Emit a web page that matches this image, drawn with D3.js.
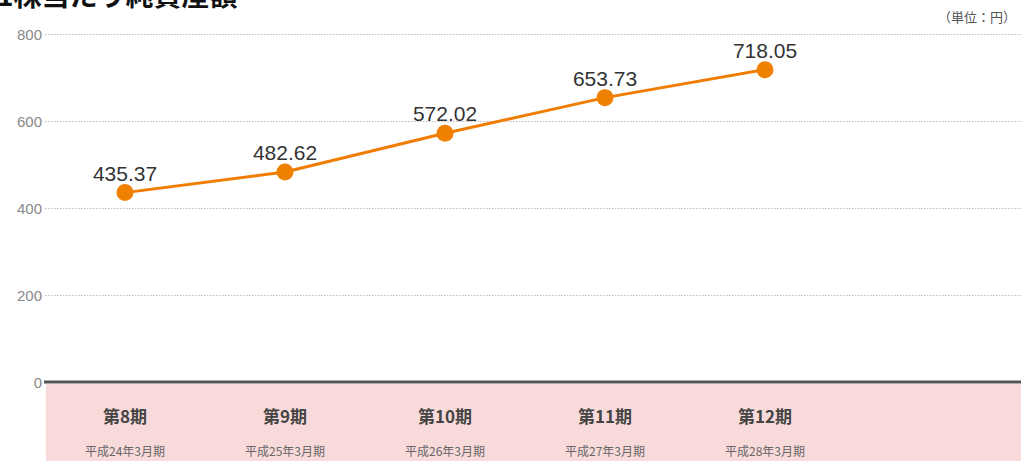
<!DOCTYPE html>
<html><head><meta charset="utf-8">
<script src="https://cdn.jsdelivr.net/npm/d3@7"></script>
<style>body{margin:0;background:#fff;}svg{display:block;}</style>
</head><body><svg id="c" width="1021" height="461"></svg>
<script>
const periods = ["第8期","第9期","第10期","第11期","第12期",""];
const subLabels = ["平成24年3月期","平成25年3月期","平成26年3月期","平成27年3月期","平成28年3月期",""];
const values = [435.37, 482.62, 572.02, 653.73, 718.05];
const yTicks = [0,200,400,600,800];
const title = "1株当たり純資産額";
const unit = "（単位：円）";

const svg = d3.select("#c");
const W = 1021, H = 461;
const font = "'Noto Sans CJK JP','Noto Sans',sans-serif";
const x = d3.scaleBand().domain(periods.map((d,i)=>i)).range([45, 1005]);
const y = d3.scaleLinear().domain([0,800]).range([382,34]);

// pink band
svg.append("rect").attr("x",46).attr("y",y(0)+2).attr("width",W-46).attr("height",H-y(0)).attr("fill","#f9dada");

// grid
const g = svg.append("g");
yTicks.filter(t=>t>0).forEach(t=>{
  g.append("line").attr("x1",45).attr("x2",W).attr("y1",y(t)+0.5).attr("y2",y(t)+0.5)
   .attr("stroke","#bbb").attr("stroke-width",1).attr("stroke-dasharray","1.5,1.5");
});
// zero line
svg.append("line").attr("x1",44).attr("x2",W).attr("y1",y(0)).attr("y2",y(0)).attr("stroke","#555").attr("stroke-width",3);

// y tick labels
const yAxis = d3.axisLeft(y).tickValues(yTicks).tickSize(0).tickPadding(0);
const ya = svg.append("g").attr("transform","translate(42,0)").call(yAxis);
ya.select(".domain").remove();
ya.selectAll("text").attr("font-family","'Liberation Sans',Arial,sans-serif").attr("font-size",15).attr("fill","#888").attr("dy","0.35em");

// title
svg.append("text").attr("x",-3).attr("y",6).attr("font-family",font).attr("font-weight","bold")
  .attr("font-size",28).attr("fill","#111").text(title);
svg.append("text").attr("x",1016).attr("y",22).attr("text-anchor","end").attr("font-family",font)
  .attr("font-size",13).attr("fill","#555").text(unit);

// category labels
const cx = i => x(i)+x.bandwidth()/2;
periods.forEach((p,i)=>{
  if(!p) return;
  svg.append("text").attr("x",cx(i)).attr("y",423).attr("text-anchor","middle").attr("font-family",font)
    .attr("font-weight","bold").attr("font-size",17).attr("fill","#444").text(p);
  svg.append("text").attr("x",cx(i)).attr("y",456).attr("text-anchor","middle").attr("font-family",font)
    .attr("font-size",12).attr("fill","#666").text(subLabels[i]);
});

// line
const line = d3.line().x((d,i)=>cx(i)).y(d=>y(d));
svg.append("path").datum(values).attr("d",line).attr("fill","none").attr("stroke","#f07d00").attr("stroke-width",3);
svg.selectAll("circle.pt").data(values).enter().append("circle")
  .attr("cx",(d,i)=>cx(i)).attr("cy",d=>y(d)).attr("r",8.5).attr("fill","#f08000");
svg.selectAll("text.val").data(values).enter().append("text")
  .attr("x",(d,i)=>cx(i)).attr("y",d=>y(d)-12).attr("text-anchor","middle")
  .attr("font-family","'Liberation Sans',Arial,sans-serif").attr("font-size",21).attr("fill","#333")
  .text(d=>d.toFixed(2));
</script></body></html>
